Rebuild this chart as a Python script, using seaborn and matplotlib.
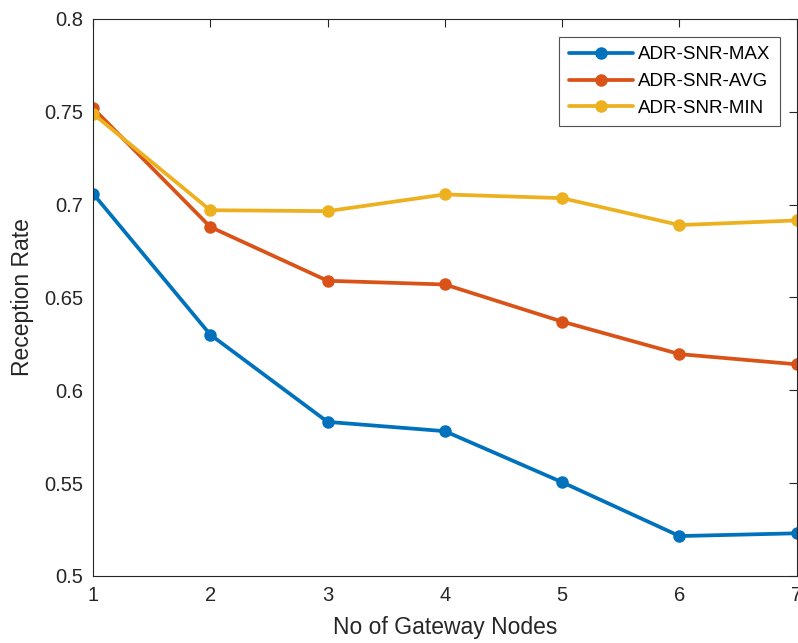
import pandas as pd
import matplotlib
matplotlib.use("Agg")
import matplotlib.pyplot as plt
import seaborn as sns

# values
gateway_nodes = [1, 2, 3, 4, 5, 6, 7]
snr_max = [0.706, 0.630, 0.583, 0.578, 0.5505, 0.5215, 0.523]
snr_avg = [0.752, 0.688, 0.659, 0.657, 0.637, 0.6195, 0.614]
snr_min = [0.749, 0.697, 0.6965, 0.7055, 0.7035, 0.689, 0.6915]
series_names = ["ADR-SNR-MAX", "ADR-SNR-AVG", "ADR-SNR-MIN"]
colors = ["#0072BD", "#D95319", "#EDB120"]

df = pd.DataFrame({
    "nodes": gateway_nodes * 3,
    "rate": snr_max + snr_avg + snr_min,
    "series": [n for n in series_names for _ in gateway_nodes],
})

sns.set_style("white")
plt.rcParams["font.family"] = ["Liberation Sans", "DejaVu Sans"]

fig = plt.figure(figsize=(7.98, 6.43), dpi=100)
ax = fig.add_axes([0.1165, 0.1042, 0.882, 0.8663])

sns.lineplot(data=df, x="nodes", y="rate", hue="series", hue_order=series_names,
             palette=colors, marker="o", markersize=9, markeredgewidth=0,
             linewidth=2.7, ax=ax)

ax.set_xlim(1, 7)
ax.set_ylim(0.5, 0.8)
ax.set_xticks(gateway_nodes)
ax.set_yticks([0.5, 0.55, 0.6, 0.65, 0.7, 0.75, 0.8])
ax.set_yticklabels(["0.5", "0.55", "0.6", "0.65", "0.7", "0.75", "0.8"])
ax.tick_params(direction="in", length=6, width=0.8, color="#262626",
               labelsize=14.5, labelcolor="#262626", top=True, right=True, pad=7)
for sp in ax.spines.values():
    sp.set_visible(True)
    sp.set_color("#262626")
    sp.set_linewidth(0.8)

ax.set_xlabel("No of Gateway Nodes", fontsize=16.5, color="#262626", labelpad=8)
ax.set_ylabel("Reception Rate", fontsize=16.5, color="#262626", labelpad=7)

leg = ax.legend(loc="upper right", bbox_to_anchor=(0.976, 0.968), borderaxespad=0,
                fontsize=13.5, frameon=True, fancybox=False, edgecolor="#262626",
                handlelength=3.4, handletextpad=0.3, borderpad=0.5, labelspacing=0.52)
leg.get_frame().set_linewidth(0.8)
for t in leg.get_texts():
    t.set_color("black")

fig.savefig("out.png", dpi=100)
